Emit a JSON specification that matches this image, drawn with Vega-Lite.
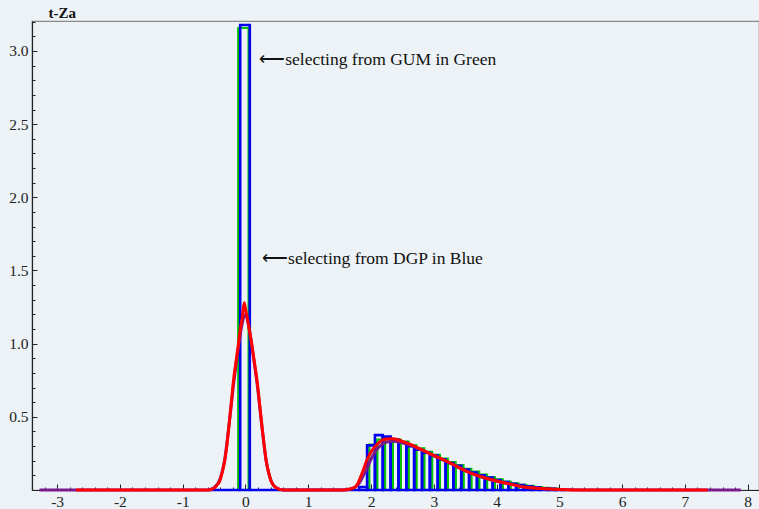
{
  "$schema": "https://vega.github.io/schema/vega-lite/v6.json",
  "width": 727,
  "height": 469,
  "padding": {"left": 32, "top": 21, "right": 0, "bottom": 19},
  "autosize": {"type": "none"},
  "background": "#ECF2F6",
  "config": {
    "view": {"stroke": "#8a8a8a", "strokeWidth": 1.2},
    "font": "Liberation Serif",
    "style": {"guide-label": {"font": "Liberation Serif"}, "guide-title": {"font": "Liberation Serif"}},
    "axis": {"grid": false, "labelFont": "Liberation Serif", "labelFontSize": 15, "labelColor": "#222", "domainColor": "#222", "tickColor": "#222", "titleFont": "Liberation Serif"}
  },
  "datasets": {
    "hist": [
      {"series": "GUM", "x0": -0.115, "x1": 0.05, "h": 3.157},
      {"series": "GUM", "x0": 1.9725, "x1": 2.0975, "h": 0.31},
      {"series": "GUM", "x0": 2.0975, "x1": 2.2225, "h": 0.345},
      {"series": "GUM", "x0": 2.2225, "x1": 2.3475, "h": 0.35},
      {"series": "GUM", "x0": 2.3475, "x1": 2.4725, "h": 0.345},
      {"series": "GUM", "x0": 2.4725, "x1": 2.5975, "h": 0.33},
      {"series": "GUM", "x0": 2.5975, "x1": 2.7225, "h": 0.305},
      {"series": "GUM", "x0": 2.7225, "x1": 2.8475, "h": 0.285},
      {"series": "GUM", "x0": 2.8475, "x1": 2.9725, "h": 0.26},
      {"series": "GUM", "x0": 2.9725, "x1": 3.0975, "h": 0.24},
      {"series": "GUM", "x0": 3.0975, "x1": 3.2225, "h": 0.215},
      {"series": "GUM", "x0": 3.2225, "x1": 3.3475, "h": 0.19},
      {"series": "GUM", "x0": 3.3475, "x1": 3.4725, "h": 0.17},
      {"series": "GUM", "x0": 3.4725, "x1": 3.5975, "h": 0.145},
      {"series": "GUM", "x0": 3.5975, "x1": 3.7225, "h": 0.125},
      {"series": "GUM", "x0": 3.7225, "x1": 3.8475, "h": 0.105},
      {"series": "GUM", "x0": 3.8475, "x1": 3.9725, "h": 0.088},
      {"series": "GUM", "x0": 3.9725, "x1": 4.0975, "h": 0.072},
      {"series": "GUM", "x0": 4.0975, "x1": 4.2225, "h": 0.058},
      {"series": "GUM", "x0": 4.2225, "x1": 4.3475, "h": 0.046},
      {"series": "GUM", "x0": 4.3475, "x1": 4.4725, "h": 0.036},
      {"series": "GUM", "x0": 4.4725, "x1": 4.5975, "h": 0.028},
      {"series": "GUM", "x0": 4.5975, "x1": 4.7225, "h": 0.02},
      {"series": "GUM", "x0": 4.7225, "x1": 4.8475, "h": 0.014},
      {"series": "GUM", "x0": 4.8475, "x1": 4.9725, "h": 0.009},
      {"series": "DGP", "x0": -0.6, "x1": -0.084, "h": 0},
      {"series": "DGP", "x0": -0.084, "x1": 0.069, "h": 3.178},
      {"series": "DGP", "x0": 0.069, "x1": 1.8125, "h": 0},
      {"series": "DGP", "x0": 1.8125, "x1": 1.9375, "h": 0.02},
      {"series": "DGP", "x0": 1.9375, "x1": 2.0625, "h": 0.305},
      {"series": "DGP", "x0": 2.0625, "x1": 2.1875, "h": 0.375},
      {"series": "DGP", "x0": 2.1875, "x1": 2.3125, "h": 0.365},
      {"series": "DGP", "x0": 2.3125, "x1": 2.4375, "h": 0.345},
      {"series": "DGP", "x0": 2.4375, "x1": 2.5625, "h": 0.325},
      {"series": "DGP", "x0": 2.5625, "x1": 2.6875, "h": 0.3},
      {"series": "DGP", "x0": 2.6875, "x1": 2.8125, "h": 0.275},
      {"series": "DGP", "x0": 2.8125, "x1": 2.9375, "h": 0.255},
      {"series": "DGP", "x0": 2.9375, "x1": 3.0625, "h": 0.235},
      {"series": "DGP", "x0": 3.0625, "x1": 3.1875, "h": 0.21},
      {"series": "DGP", "x0": 3.1875, "x1": 3.3125, "h": 0.185},
      {"series": "DGP", "x0": 3.3125, "x1": 3.4375, "h": 0.165},
      {"series": "DGP", "x0": 3.4375, "x1": 3.5625, "h": 0.14},
      {"series": "DGP", "x0": 3.5625, "x1": 3.6875, "h": 0.12},
      {"series": "DGP", "x0": 3.6875, "x1": 3.8125, "h": 0.1},
      {"series": "DGP", "x0": 3.8125, "x1": 3.9375, "h": 0.085},
      {"series": "DGP", "x0": 3.9375, "x1": 4.0625, "h": 0.068},
      {"series": "DGP", "x0": 4.0625, "x1": 4.1875, "h": 0.055},
      {"series": "DGP", "x0": 4.1875, "x1": 4.3125, "h": 0.043},
      {"series": "DGP", "x0": 4.3125, "x1": 4.4375, "h": 0.034},
      {"series": "DGP", "x0": 4.4375, "x1": 4.5625, "h": 0.026},
      {"series": "DGP", "x0": 4.5625, "x1": 4.6875, "h": 0.018},
      {"series": "DGP", "x0": 4.6875, "x1": 4.8125, "h": 0.012},
      {"series": "DGP", "x0": 4.8125, "x1": 4.9375, "h": 0.008},
      {"series": "DGP", "x0": 4.9375, "x1": 5.0625, "h": 0.005}
    ],
    "purple": [
      {"x": -3.28, "y": 0}, {"x": -0.6, "y": 0}, {"x": -0.55, "y": 0.005}, {"x": -0.49, "y": 0.02},
      {"x": -0.41, "y": 0.07}, {"x": -0.33, "y": 0.21}, {"x": -0.26, "y": 0.45}, {"x": -0.19, "y": 0.72},
      {"x": -0.12, "y": 0.95}, {"x": -0.06, "y": 1.12}, {"x": 0.0, "y": 1.2}, {"x": 0.06, "y": 1.1},
      {"x": 0.12, "y": 0.93}, {"x": 0.19, "y": 0.71}, {"x": 0.26, "y": 0.44}, {"x": 0.33, "y": 0.2},
      {"x": 0.41, "y": 0.06}, {"x": 0.49, "y": 0.015}, {"x": 0.6, "y": 0}, {"x": 1.55, "y": 0},
      {"x": 1.7, "y": 0.008}, {"x": 1.8, "y": 0.04}, {"x": 1.88, "y": 0.1}, {"x": 1.95, "y": 0.16},
      {"x": 2.0, "y": 0.21}, {"x": 2.08, "y": 0.27}, {"x": 2.17, "y": 0.31}, {"x": 2.27, "y": 0.33},
      {"x": 2.36, "y": 0.333}, {"x": 2.48, "y": 0.325}, {"x": 2.69, "y": 0.295}, {"x": 2.93, "y": 0.247},
      {"x": 3.25, "y": 0.185}, {"x": 3.57, "y": 0.118}, {"x": 3.89, "y": 0.072}, {"x": 4.2, "y": 0.043},
      {"x": 4.44, "y": 0.021}, {"x": 4.76, "y": 0.009}, {"x": 5.4, "y": 0}, {"x": 7.89, "y": 0}
    ],
    "red": [
      {"x": -2.7, "y": 0}, {"x": -0.6, "y": 0}, {"x": -0.55, "y": 0.003}, {"x": -0.49, "y": 0.016},
      {"x": -0.45, "y": 0.035}, {"x": -0.41, "y": 0.06}, {"x": -0.37, "y": 0.12}, {"x": -0.33, "y": 0.2},
      {"x": -0.3, "y": 0.29}, {"x": -0.26, "y": 0.45}, {"x": -0.22, "y": 0.62}, {"x": -0.19, "y": 0.75},
      {"x": -0.15, "y": 0.88}, {"x": -0.12, "y": 0.97}, {"x": -0.085, "y": 1.09}, {"x": -0.05, "y": 1.18},
      {"x": -0.02, "y": 1.28}, {"x": 0.0, "y": 1.24}, {"x": 0.03, "y": 1.17}, {"x": 0.06, "y": 1.1},
      {"x": 0.1, "y": 1.0}, {"x": 0.14, "y": 0.88}, {"x": 0.19, "y": 0.73}, {"x": 0.23, "y": 0.57},
      {"x": 0.27, "y": 0.41}, {"x": 0.3, "y": 0.3}, {"x": 0.33, "y": 0.2}, {"x": 0.37, "y": 0.12},
      {"x": 0.41, "y": 0.06}, {"x": 0.45, "y": 0.03}, {"x": 0.49, "y": 0.015}, {"x": 0.55, "y": 0.004},
      {"x": 0.6, "y": 0}, {"x": 1.55, "y": 0}, {"x": 1.65, "y": 0.005}, {"x": 1.74, "y": 0.018},
      {"x": 1.79, "y": 0.045}, {"x": 1.84, "y": 0.096}, {"x": 1.88, "y": 0.14}, {"x": 1.93, "y": 0.2},
      {"x": 1.98, "y": 0.245}, {"x": 2.03, "y": 0.28}, {"x": 2.1, "y": 0.313}, {"x": 2.16, "y": 0.336},
      {"x": 2.22, "y": 0.347}, {"x": 2.29, "y": 0.351}, {"x": 2.36, "y": 0.35}, {"x": 2.48, "y": 0.336},
      {"x": 2.58, "y": 0.32}, {"x": 2.69, "y": 0.3}, {"x": 2.8, "y": 0.277}, {"x": 2.93, "y": 0.25},
      {"x": 3.1, "y": 0.218}, {"x": 3.25, "y": 0.187}, {"x": 3.4, "y": 0.153}, {"x": 3.57, "y": 0.119},
      {"x": 3.73, "y": 0.094}, {"x": 3.89, "y": 0.073}, {"x": 4.05, "y": 0.056}, {"x": 4.2, "y": 0.042},
      {"x": 4.32, "y": 0.03}, {"x": 4.44, "y": 0.02}, {"x": 4.6, "y": 0.013}, {"x": 4.76, "y": 0.009},
      {"x": 5.0, "y": 0.004}, {"x": 5.4, "y": 0}, {"x": 7.36, "y": 0}
    ],
    "notes": [
      {"x": 0.22, "y": 2.94, "label": "⟵selecting from GUM in Green"},
      {"x": 0.265, "y": 1.58, "label": "⟵selecting from DGP in Blue"}
    ]
  },
  "resolve": {"axis": {"x": "independent", "y": "independent"}},
  "layer": [
    {
      "data": {"name": "hist"},
      "transform": [{"filter": "datum.series === 'GUM'"}],
      "mark": {"type": "rect", "fill": "transparent", "stroke": "#00C400", "strokeWidth": 2.2},
      "encoding": {
        "x": {"field": "x0", "type": "quantitative", "scale": {"domain": [-3.4, 8.18], "nice": false, "zero": false},
          "axis": {"orient": "bottom", "title": null, "values": [-3, -2, -1, 0, 1, 2, 3, 4, 5, 6, 7, 8], "labelExpr": "datum.value + ''", "tickSize": -6, "labelPadding": 10, "domainWidth": 1.2, "labelFont": "Liberation Serif", "labelFontSize": 15.5}},
        "x2": {"field": "x1"},
        "y": {"field": "h", "type": "quantitative", "scale": {"domain": [0, 3.205], "nice": false},
          "axis": {"orient": "left", "title": "t-Za", "titleAngle": 0, "titleAlign": "left", "titleBaseline": "middle", "titleX": 16, "titleY": -9, "titleFont": "Liberation Serif", "titleFontSize": 15, "titleFontWeight": "bold", "titleColor": "#111",
            "values": [0.5, 1, 1.5, 2, 2.5, 3], "format": ".1f", "tickSize": -5, "labelPadding": 9, "domainWidth": 1.2, "labelFont": "Liberation Serif", "labelFontSize": 15.5}},
        "y2": {"datum": 0}
      }
    },
    {
      "data": {"name": "hist"},
      "transform": [{"filter": "datum.series === 'DGP'"}],
      "mark": {"type": "rect", "fill": "transparent", "stroke": "#0000F0", "strokeWidth": 2.6},
      "encoding": {
        "x": {"field": "x0", "type": "quantitative",
          "axis": {"orient": "bottom", "title": null, "labels": false, "domain": false, "tickSize": -3,
            "values": [-3.2, -2.8, -2.6, -2.4, -2.2, -1.8, -1.6, -1.4, -1.2, -0.8, -0.6, -0.4, -0.2, 0.2, 0.4, 0.6, 0.8, 1.2, 1.4, 1.6, 1.8, 2.2, 2.4, 2.6, 2.8, 3.2, 3.4, 3.6, 3.8, 4.2, 4.4, 4.6, 4.8, 5.2, 5.4, 5.6, 5.8, 6.2, 6.4, 6.6, 6.8, 7.2, 7.4, 7.6, 7.8, 8.2]}},
        "x2": {"field": "x1"},
        "y": {"field": "h", "type": "quantitative",
          "axis": {"orient": "left", "title": null, "labels": false, "domain": false, "tickSize": -3,
            "values": [0.1, 0.2, 0.3, 0.4, 0.6, 0.7, 0.8, 0.9, 1.1, 1.2, 1.3, 1.4, 1.6, 1.7, 1.8, 1.9, 2.1, 2.2, 2.3, 2.4, 2.6, 2.7, 2.8, 2.9, 3.1, 3.2]}},
        "y2": {"datum": 0}
      }
    },
    {
      "data": {"name": "purple"},
      "mark": {"type": "line", "stroke": "#7A1A8C", "strokeWidth": 3, "interpolate": "monotone"},
      "encoding": {
        "x": {"field": "x", "type": "quantitative", "axis": null},
        "y": {"field": "y", "type": "quantitative", "axis": null}
      }
    },
    {
      "data": {"name": "red"},
      "mark": {"type": "line", "stroke": "#FF0000", "strokeWidth": 3, "interpolate": "monotone"},
      "encoding": {
        "x": {"field": "x", "type": "quantitative", "axis": null},
        "y": {"field": "y", "type": "quantitative", "axis": null}
      }
    },
    {
      "data": {"name": "notes"},
      "mark": {"type": "text", "align": "left", "baseline": "middle", "font": "Liberation Serif", "fontSize": 17.5, "color": "#111"},
      "encoding": {
        "x": {"field": "x", "type": "quantitative", "axis": null},
        "y": {"field": "y", "type": "quantitative", "axis": null},
        "text": {"field": "label"}
      }
    }
  ]
}
